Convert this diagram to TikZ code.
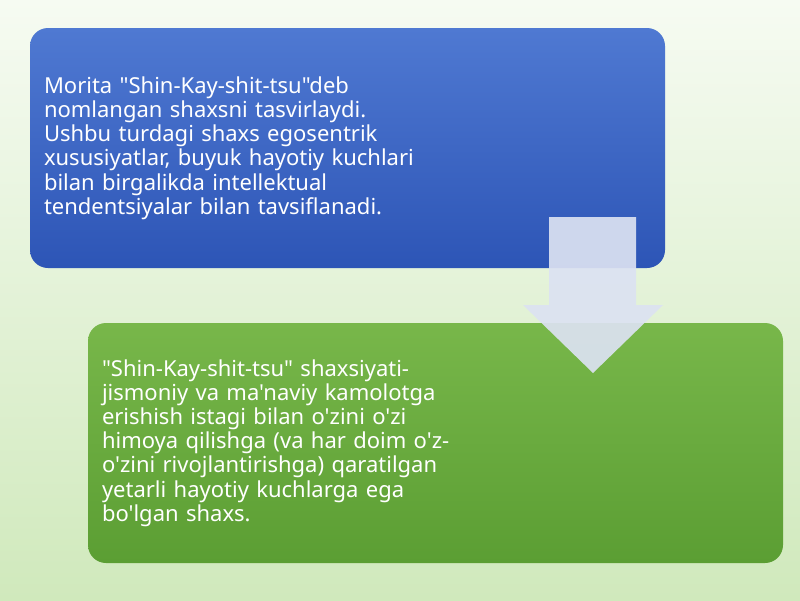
\documentclass[tikz,border=0pt]{standalone}
\usepackage{fontspec}
\setmainfont{Noto Sans}[Ligatures=TeXOff]
\usetikzlibrary{positioning}

\definecolor{bgtop}{HTML}{F6FBF2}
\definecolor{bgbottom}{HTML}{D0E9BC}
\definecolor{bluetop}{HTML}{4F79D2}
\definecolor{bluebottom}{HTML}{2D55B6}
\definecolor{greentop}{HTML}{78B74A}
\definecolor{greenbottom}{HTML}{5B9E33}
\definecolor{arrowfill}{HTML}{DCE2F2}

\tikzset{
  textbox/.style={rectangle, rounded corners=18pt, minimum width=635pt,
    minimum height=240pt, text width=607pt, inner xsep=14pt, align=left,
    text=white, font=\fontsize{22}{24.2}\selectfont},
  bluebox/.style={textbox, top color=bluetop, bottom color=bluebottom},
  greenbox/.style={textbox, minimum width=695pt, text width=667pt,
    top color=greentop, bottom color=greenbottom}
}

\begin{document}
\begin{tikzpicture}[x=1pt,y=-1pt]
            \useasboundingbox (0,0) rectangle (800,600);
            \shade[top color=bgtop, bottom color=bgbottom] (0,0) rectangle (800,600);

            \node[bluebox] (morita) at (347.5,148) {Morita "Shin-Kay-shit-tsu"deb\\
              nomlangan shaxsni tasvirlaydi.\\
              Ushbu turdagi shaxs egosentrik\\
              xususiyatlar, buyuk hayotiy kuchlari\\
              bilan birgalikda intellektual\\
              tendentsiyalar bilan tavsiflanadi.};
            \node[greenbox] (shaxs) at (435.5,443) {"Shin-Kay-shit-tsu" shaxsiyati-\\
              jismoniy va ma'naviy kamolotga\\
              erishish istagi bilan o'zini o'zi\\
              himoya qilishga (va har doim o'z-\\
              o'zini rivojlantirishga) qaratilgan\\
              yetarli hayotiy kuchlarga ega\\
              bo'lgan shaxs.};

            % block arrow
            \fill[arrowfill, opacity=0.92]
              (549,217) -- (636,217) -- (636,305) -- (663,305)
              -- (593,373) -- (523,305) -- (549,305) -- cycle;

        \end{tikzpicture}
\end{document}
